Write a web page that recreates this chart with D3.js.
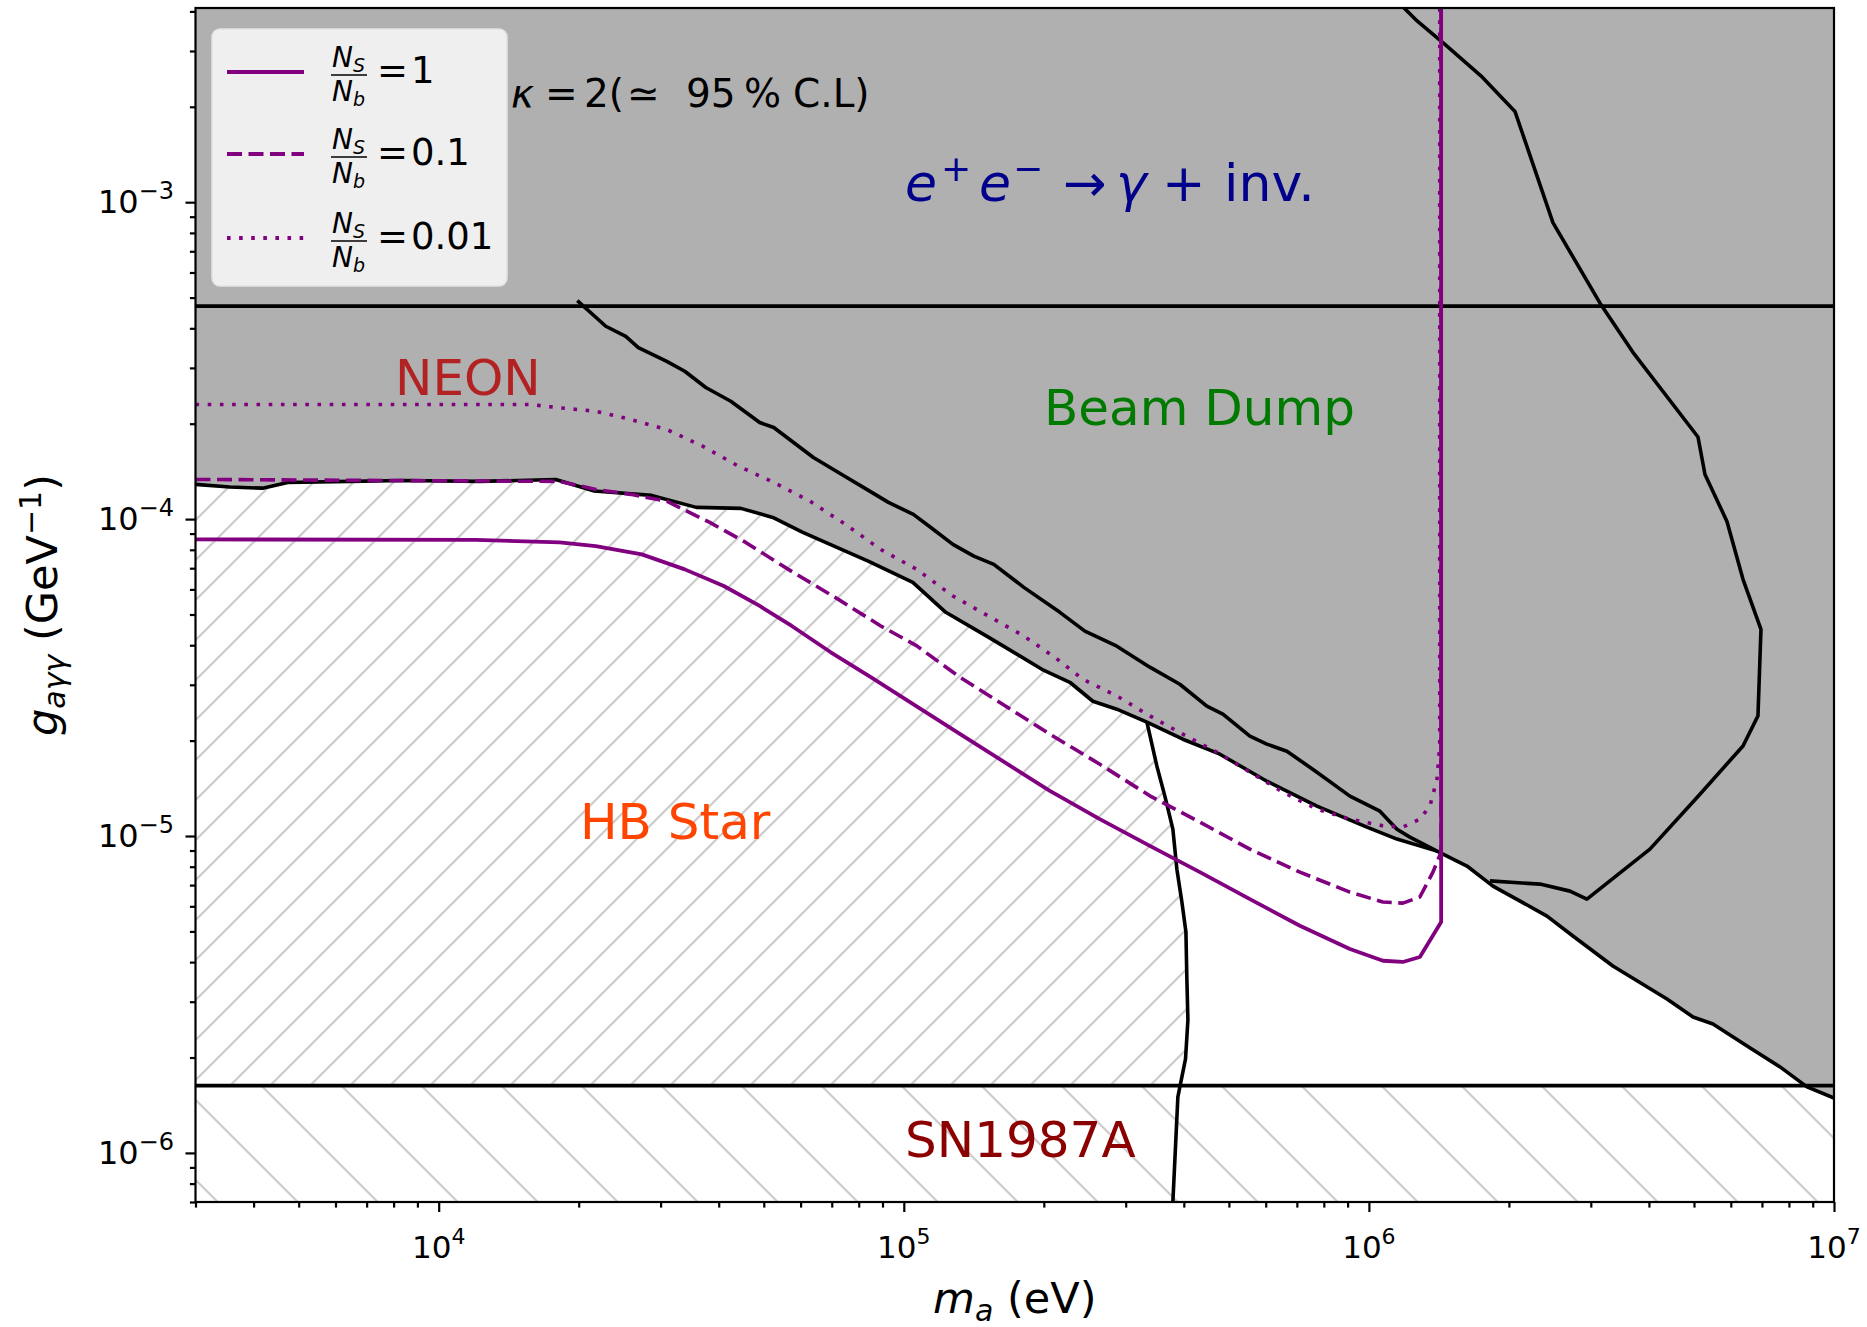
<!DOCTYPE html>
<html><head><meta charset="utf-8">
<script src="https://cdn.jsdelivr.net/npm/d3@7"></script>
<style>
body{margin:0;background:#fff}
text{font-family:"DejaVu Sans",sans-serif}
</style></head>
<body><svg id="chart" width="1867" height="1327"></svg>
<script>
// ---------------- data ----------------
const xMajorTicks=[1e4,1e5,1e6,1e7];
const xTickExponents=["4","5","6","7"];
const yMajorTicks=[1e-3,1e-4,1e-5,1e-6];
const yTickExponents=["\u22123","\u22124","\u22125","\u22126"];
const eeLimit=4.7e-4;      // e+e- -> gamma + inv. horizontal bound
const snLimit=1.63e-6;     // SN1987A horizontal bound

// lower envelope (HB / NEON / beam dump lower edge)
const envelope_m=[3000,3553,4183,4735,6436,8367,12250,17846,21600,28700,35800,44620,52270,60650,84060,104570,123100,152300,198100,227500,255000,287100,333200,398100,478200,603400,773100,990200,1149000,1401000,1625000,1848000,2415000,2746000,3346000,4374000,4975000,5493000,6502000,7655000,8748000,1e7];
const envelope_g=[1.287e-4,1.262e-4,1.252e-4,1.305e-4,1.315e-4,1.324e-4,1.315e-4,1.334e-4,1.226e-4,1.188e-4,1.089e-4,1.081e-4,1.012e-4,9.08e-5,7.355e-5,6.316e-5,5.08e-5,4.236e-5,3.358e-5,3.056e-5,2.662e-5,2.513e-5,2.286e-5,2.02e-5,1.812e-5,1.489e-5,1.242e-5,1.067e-5,9.78e-6,8.96e-6,8.04e-6,6.95e-6,5.59e-6,4.835e-6,3.89e-6,3.06e-6,2.685e-6,2.552e-6,2.176e-6,1.868e-6,1.616e-6,1.49e-6];

// beam dump upper edge
const beamDump_m=[19860,22870,25250,26870,30930,33810,37520,42460,49000,52530,63920,73570,83250,92670,104850,114310,127510,141450,156130,181170,216570,245110,287150,338100,392200,448300,485300,554800,603400,666300,773100,910300,1056000,1149000,1225000,1401000];
const beamDump_g=[4.89e-4,4.06e-4,3.774e-4,3.478e-4,3.147e-4,2.928e-4,2.601e-4,2.355e-4,2.018e-4,1.945e-4,1.565e-4,1.383e-4,1.241e-4,1.129e-4,1.035e-4,9.41e-5,8.32e-5,7.64e-5,7.2e-5,6.09e-5,5.08e-5,4.43e-5,3.97e-5,3.41e-5,3.012e-5,2.568e-5,2.423e-5,2.065e-5,1.949e-5,1.852e-5,1.59e-5,1.336e-5,1.198e-5,1.051e-5,9.92e-6,8.96e-6];

// right-hand contour
const rightLoop_m=[1.19e6,1.262e6,1.457e6,1.741e6,2.061e6,2.487e6,3.14e6,3.696e6,5.1e6,5.28e6,5.887e6,6.373e6,6.966e6,6.863e6,6.373e6,5.15e6,4.02e6,2.943e6,2.706e6,2.332e6,1.82e6];
const rightLoop_g=[4.1e-3,3.762e-3,3.146e-3,2.505e-3,1.934e-3,8.62e-4,4.8e-4,3.36e-4,1.816e-4,1.383e-4,9.83e-5,6.455e-5,4.49e-5,2.393e-5,1.924e-5,1.355e-5,9.09e-6,6.32e-6,6.7e-6,7.05e-6,7.22e-6];

// HB star right edge
const hbEdge_m=[333200,350100,364200,378900,386500,396200,404200,406100,408200,403400,388400,378900];
const hbEdge_g=[2.286e-5,1.661e-5,1.336e-5,1.051e-5,7.86e-6,6.19e-6,4.98e-6,3.54e-6,2.628e-6,1.98e-6,1.503e-6,7e-7];

// sensitivity curves
const ns1_m=[3000,12000,18200,21760,27330,33810,41020,49000,57430,69660,84920,131950,206100,263900,338100,433100,554800,710600,910300,1072000,1183000,1287000,1430000,1430000];
const ns1_g=[8.63e-5,8.6e-5,8.45e-5,8.22e-5,7.74e-5,6.94e-5,6.15e-5,5.32e-5,4.6e-5,3.8e-5,3.17e-5,2.1e-5,1.388e-5,1.131e-5,9.31e-6,7.69e-6,6.32e-6,5.21e-6,4.40e-6,4.04e-6,4.004e-6,4.15e-6,5.35e-6,5e-3];
const ns01_m=[3000,18200,21760,25880,30930,38260,45730,56470,72330,89230,106650,131950,206100,263900,338100,433100,554800,710600,910300,1072000,1183000,1287000,1373000,1430000,1430000];
const ns01_g=[1.334e-4,1.315e-4,1.241e-4,1.197e-4,1.139e-4,9.76e-5,8.44e-5,6.94e-5,5.58e-5,4.6e-5,3.98e-5,3.17e-5,2.096e-5,1.685e-5,1.339e-5,1.106e-5,9.09e-6,7.69e-6,6.65e-6,6.19e-6,6.14e-6,6.42e-6,7.69e-6,8.9e-6,5e-3];
const ns001_m=[3000,15770,18200,21760,25880,30930,36960,44100,52530,62800,74930,89230,106650,127510,152000,181170,211200,242600,287100,338100,398100,471000,554800,653400,773100,910300,1072000,1183000,1287000,1353000,1401000,1420000,1420000];
const ns001_g=[2.30e-4,2.30e-4,2.245e-4,2.19e-4,2.062e-4,1.918e-4,1.698e-4,1.469e-4,1.305e-4,1.14e-4,9.62e-5,8.02e-5,6.94e-5,5.72e-5,4.944e-5,4.276e-5,3.664e-5,3.124e-5,2.767e-5,2.393e-5,2.096e-5,1.839e-5,1.59e-5,1.375e-5,1.216e-5,1.13e-5,1.077e-5,1.067e-5,1.13e-5,1.245e-5,1.512e-5,1.925e-5,5e-3];
const legendValues=["1","0.1","0.01"];

// ---------------- drawing ----------------
const P={left:195.5,right:1834,top:8,bottom:1202};
const svg=d3.select("#chart");
svg.append("rect").attr("width",1867).attr("height",1327).attr("fill","#fff");
const x=d3.scaleLog().domain([3000,1e7]).range([P.left,P.right]);
const y=d3.scaleLog().domain([7e-7,4.1e-3]).range([P.bottom,P.top]);
const zip=(a,b)=>a.map((v,i)=>[v,b[i]]);
const line=d3.line().x(d=>x(d[0])).y(d=>y(d[1]));

const defs=svg.append("defs");
defs.append("clipPath").attr("id","plotClip").append("rect")
  .attr("x",P.left).attr("y",P.top).attr("width",P.right-P.left).attr("height",P.bottom-P.top);
defs.append("clipPath").attr("id","aboveSN").append("rect")
  .attr("x",P.left).attr("y",P.top).attr("width",P.right-P.left).attr("height",y(snLimit)-P.top);
const hb=defs.append("pattern").attr("id","hbHatch").attr("patternUnits","userSpaceOnUse")
  .attr("width",40).attr("height",40).attr("x",35.7).attr("y",0);
hb.append("path").attr("d","M-10,10L10,-10M0,40L40,0M30,50L50,30").attr("stroke","#c8c8c8").attr("stroke-width",2);
const sn=defs.append("pattern").attr("id","snHatch").attr("patternUnits","userSpaceOnUse")
  .attr("width",80).attr("height",80).attr("x",55.7).attr("y",0);
sn.append("path").attr("d","M0,0L80,80M-10,70L10,90M70,-10L90,10").attr("stroke","#c8c8c8").attr("stroke-width",2);

const g=svg.append("g").attr("clip-path","url(#plotClip)");
const envPts=zip(envelope_m,envelope_g);
const yTop=y.domain()[1], yBot=y.domain()[0];
g.append("path").attr("d",line(envPts.concat([[1e7,yTop],[3000,yTop]]))+"Z").attr("fill","#b0b0b0");

// HB hatch
const jIdx=envelope_m.indexOf(hbEdge_m[0]);
const hbPoly=envPts.slice(0,jIdx+1).concat(zip(hbEdge_m,hbEdge_g).slice(1)).concat([[3000,yBot]]);
g.append("g").attr("clip-path","url(#aboveSN)").append("path")
  .attr("d",line(hbPoly)+"Z").attr("fill","url(#hbHatch)");
// SN hatch
g.append("rect").attr("x",P.left).attr("y",y(snLimit)).attr("width",P.right-P.left)
  .attr("height",P.bottom-y(snLimit)).attr("fill","url(#snHatch)");

// black boundaries
const blk=(pts)=>g.append("path").attr("d",line(pts)).attr("fill","none").attr("stroke","#000").attr("stroke-width",3.6).attr("stroke-linejoin","round");
blk(envPts);
blk(zip(beamDump_m,beamDump_g));
blk(zip(rightLoop_m,rightLoop_g));
blk(zip(hbEdge_m,hbEdge_g));
blk([[3000,eeLimit],[1e7,eeLimit]]);
blk([[3000,snLimit],[1e7,snLimit]]);

// purple curves
const purple="#800080";
const pur=(pts,dash,w)=>g.append("path").attr("d",line(pts)).attr("fill","none").attr("stroke",purple)
  .attr("stroke-width",w).attr("stroke-dasharray",dash).attr("stroke-linejoin","round");
pur(zip(ns001_m,ns001_g),"3.6,8.6",3.6);
pur(zip(ns01_m,ns01_g),"15,6.5",3.6);
pur(zip(ns1_m,ns1_g),null,3.8);

// region labels
const lab=(t,xx,yy,c)=>svg.append("text").attr("x",xx).attr("y",yy).attr("fill",c).attr("font-size",50).text(t);
lab("NEON",395,395,"#b22222");
lab("Beam Dump",1044,425,"#007a00");
lab("HB Star",580,839,"#ff4500");
lab("SN1987A",905,1157,"#8b0000");
// e+ e- -> gamma + inv.  (one text element, pieces placed individually)
const eeText=svg.append("text").attr("y",201).attr("fill","#00008b").attr("font-size",52);
const eeParts=[
  {t:"e",x:905,y:201,fs:52,it:true},
  {t:"+",x:941,y:181,fs:36,it:false},
  {t:"e",x:979,y:201,fs:52,it:true},
  {t:"\u2212",x:1013,y:181,fs:36,it:false},
  {t:"\u2192",x:1063,y:201,fs:52,it:false},
  {t:"\u03b3",x:1116,y:201,fs:52,it:true},
  {t:"+",x:1162,y:201,fs:52,it:false},
  {t:"inv.",x:1224,y:201,fs:52,it:false}];
eeParts.forEach(p=>eeText.append("tspan").attr("x",p.x).attr("y",p.y)
  .attr("font-size",p.fs).attr("font-style",p.it?"italic":"normal").text(p.t));
// kappa annotation
const kText=svg.append("text").attr("y",107).attr("fill","#000").attr("font-size",39);
const kParts=[
  {t:"\u03ba",x:511,it:true},{t:"=",x:545,it:false},{t:"2(",x:584,it:false},
  {t:"\u2243",x:627,it:false},{t:"95",x:686,it:false},{t:"%",x:744,it:false},{t:"C.L)",x:793,it:false}];
kParts.forEach(p=>kText.append("tspan").attr("x",p.x).attr("y",107)
  .attr("font-style",p.it?"italic":"normal").text(p.t));

// legend
svg.append("rect").attr("x",212).attr("y",29).attr("width",295).attr("height",257).attr("rx",8)
  .attr("fill","#efefef").attr("stroke","#e2e2e2").attr("stroke-width",1.5);
const legY=[72,154,238];
const legDash=[null,"15,6.5","3.6,8.5"];
legendValues.forEach((v,i)=>{
  const cy=legY[i], bar=cy+3;
  svg.append("line").attr("x1",227).attr("x2",304).attr("y1",cy).attr("y2",cy)
    .attr("stroke",purple).attr("stroke-width",3.8).attr("stroke-dasharray",legDash[i]);
  const num=svg.append("text").attr("x",332).attr("y",bar-8).attr("font-size",28).attr("font-style","italic");
  num.append("tspan").text("N");
  num.append("tspan").attr("font-size",19).attr("dy",5).text("S");
  svg.append("line").attr("x1",331).attr("x2",367).attr("y1",bar).attr("y2",bar).attr("stroke","#000").attr("stroke-width",1.6);
  const den=svg.append("text").attr("x",332).attr("y",bar+26).attr("font-size",28).attr("font-style","italic");
  den.append("tspan").text("N");
  den.append("tspan").attr("font-size",19).attr("dy",5).text("b");
  const eq=svg.append("text").attr("y",bar+8).attr("font-size",37);
  eq.append("tspan").attr("x",377).text("=");
  eq.append("tspan").attr("x",411).text(v);
});

// axes
const minorX=[];
[1e3,1e4,1e5,1e6].forEach(d=>{for(let k=2;k<=9;k++){const v=k*d;if(v>=3000&&v<1e7)minorX.push(v);}});
const minorY=[];
[1e-7,1e-6,1e-5,1e-4,1e-3].forEach(d=>{for(let k=2;k<=9;k++){const v=k*d;if(v>=7e-7&&v<=4.1e-3)minorY.push(v);}});
const styleAxis=a=>{a.select(".domain").remove();a.selectAll("line").attr("stroke","#000").attr("stroke-width",2.2);};
styleAxis(svg.append("g").attr("transform",`translate(0,${P.bottom})`).call(d3.axisBottom(x).tickValues(xMajorTicks).tickSize(10).tickFormat("")));
styleAxis(svg.append("g").attr("transform",`translate(0,${P.bottom})`).call(d3.axisBottom(x).tickValues(minorX).tickSize(5.6).tickFormat("")));
styleAxis(svg.append("g").attr("transform",`translate(${P.left},0)`).call(d3.axisLeft(y).tickValues(yMajorTicks).tickSize(10).tickFormat("")));
styleAxis(svg.append("g").attr("transform",`translate(${P.left},0)`).call(d3.axisLeft(y).tickValues(minorY).tickSize(5.6).tickFormat("")));
xMajorTicks.forEach((v,i)=>{
  const t=svg.append("text").attr("x",x(v)).attr("y",1258).attr("text-anchor","middle").attr("font-size",31);
  t.append("tspan").text("10");
  t.append("tspan").attr("font-size",22).attr("dy",-14).text(xTickExponents[i]);
});
yMajorTicks.forEach((v,i)=>{
  const t=svg.append("text").attr("x",174).attr("y",y(v)+11).attr("text-anchor","end").attr("font-size",32);
  t.append("tspan").text("10");
  t.append("tspan").attr("font-size",24).attr("dy",-14).text(yTickExponents[i]);
});
// spines
svg.append("rect").attr("x",P.left).attr("y",P.top).attr("width",P.right-P.left).attr("height",P.bottom-P.top)
  .attr("fill","none").attr("stroke","#000").attr("stroke-width",2.2);

// axis labels
const xl=svg.append("text").attr("x",(P.left+P.right)/2).attr("y",1313).attr("text-anchor","middle").attr("font-size",43);
xl.append("tspan").attr("font-style","italic").text("m");
xl.append("tspan").attr("font-style","italic").attr("font-size",30).attr("dy",8).text("a");
xl.append("tspan").attr("dy",-8).text(" (eV)");
const yl=svg.append("text").attr("transform","translate(57,605) rotate(-90)").attr("text-anchor","middle").attr("font-size",43);
yl.append("tspan").attr("font-style","italic").text("g");
yl.append("tspan").attr("font-style","italic").attr("font-size",30).attr("dy",8).text("a\u03b3\u03b3");
yl.append("tspan").attr("dy",-8).text(" (GeV");
yl.append("tspan").attr("font-size",30).attr("dy",-16).text("\u22121");
yl.append("tspan").attr("dy",16).text(")");
</script>
</body></html>
